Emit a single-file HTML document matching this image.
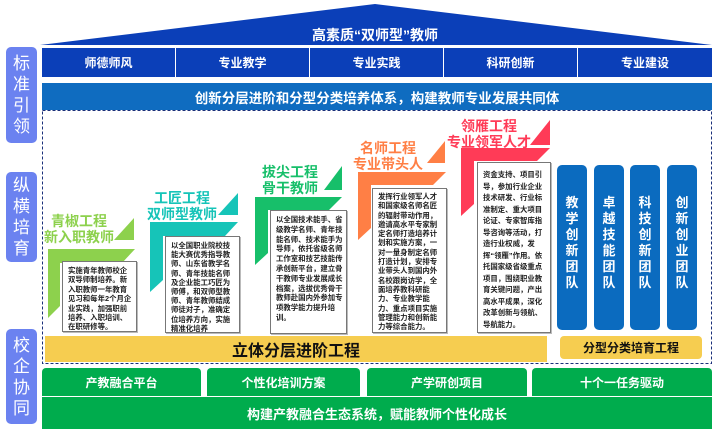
<!DOCTYPE html>
<html><head><meta charset="utf-8"><style>
*{margin:0;padding:0;box-sizing:border-box}
body{width:714px;height:429px;background:#fff;position:relative;overflow:hidden;font-family:"Liberation Sans","Noto Sans CJK SC",sans-serif}
.a{position:absolute}
.lab{position:absolute;left:6px;width:31px;background:#6b82f0;border-radius:5px;color:#fff;font-size:17px;line-height:21px;text-align:center;display:flex;align-items:center;justify-content:center;flex-direction:column}
.top5{position:absolute;top:48px;height:29px;background:#0b3fb8;color:#fff;font-size:12px;font-weight:bold;display:flex;align-items:center;justify-content:center}
.tb{position:absolute;border:1px solid #777;background:#fff;font-size:7.4px;line-height:9.8px;color:#222;padding:4px 2px 0 5px;font-weight:bold;box-shadow:1px 1px 0 #bbb;overflow:hidden}
.tt{position:absolute;font-size:14px;font-weight:bold;line-height:16px;text-align:center}
.team{position:absolute;top:165px;height:165px;width:30px;background:#0b6bbf;border-radius:5px;color:#fff;font-size:13px;font-weight:bold;line-height:16px;text-align:center;padding-top:30px}
.g{position:absolute;top:368px;height:28px;background:#00ac4d;color:#fff;font-size:12px;font-weight:bold;display:flex;align-items:center;justify-content:center;border-radius:4px 4px 0 0}
</style></head><body>
<svg class="a" style="left:0;top:0" width="714" height="429">
<polygon points="40,45 375,4 712,45" fill="#0b3fb8"/>
<polygon points="48,249 135,249 122,263 60,263 60,306 48,318" fill="#8dd14d"/>
<polygon points="114,240 134,218 134,240" fill="#8dd14d"/>
<polygon points="150,222 238,222 225,236 163,236 163,280 150,292" fill="#16c4b8"/>
<polygon points="218,215 238,193 238,215" fill="#16c4b8"/>
<polygon points="255,197 342,197 329,210 268,210 268,253 255,265" fill="#17bf6a"/>
<polygon points="324,190 342,166 342,190" fill="#17bf6a"/>
<polygon points="358,172 446,172 433,185 371,185 371,228 358,240" fill="#ff7f45"/>
<polygon points="427,163 445,141 445,163" fill="#ff7f45"/>
<polygon points="461,148 550,148 537,161 474,161 474,204 461,216" fill="#ff3b57"/>
<polygon points="530,145 550,120 550,145" fill="#ff3b57"/>
<rect x="42.5" y="110.5" width="669" height="253" fill="none" stroke="#1a2f7a" stroke-width="1" stroke-dasharray="3,2"/>
</svg>
<div class="a" style="left:0;top:25px;width:714px;text-align:center;color:#fff;font-size:14px;font-weight:bold;padding-left:36px">高素质“双师型”教师</div>
<div class="lab" style="top:47px;height:96px">标<br>准<br>引<br>领</div>
<div class="lab" style="top:172px;height:90px">纵<br>横<br>培<br>育</div>
<div class="lab" style="top:329px;height:95px">校<br>企<br>协<br>同</div>
<div class="top5" style="left:42px;width:133px">师德师风</div>
<div class="top5" style="left:176px;width:133px">专业教学</div>
<div class="top5" style="left:310px;width:133px">专业实践</div>
<div class="top5" style="left:444px;width:133px">科研创新</div>
<div class="top5" style="left:578px;width:134px">专业建设</div>
<div class="a" style="left:42px;top:83px;width:670px;height:27px;background:#0f6cc0;color:#fff;font-size:13.5px;font-weight:bold;display:flex;align-items:center;justify-content:center">创新分层进阶和分型分类培养体系，构建教师专业发展共同体</div>

<div class="tt" style="left:44px;top:213px;width:70px;color:#8dd14d">青椒工程<br>新入职教师</div>
<div class="tt" style="left:146px;top:190px;width:72px;color:#16c4b8">工匠工程<br>双师型教师</div>
<div class="tt" style="left:258px;top:164px;width:64px;color:#17bf6a">拔尖工程<br>骨干教师</div>
<div class="tt" style="left:350px;top:140px;width:76px;color:#ff7f45">名师工程<br>专业带头人</div>
<div class="tt" style="left:446px;top:118px;width:86px;color:#ff3b57">领雁工程<br>专业领军人才</div>

<div class="tb" style="left:62px;top:261px;width:75px;height:71px;line-height:9.4px">实施青年教师校企双导师制培养。新入职教师一年教育见习和每年2个月企业实践，加强职前培养、入职培训、在职研修等。</div>
<div class="tb" style="left:165px;top:236px;width:75px;height:97px;line-height:9.2px">以全国职业院校技能大赛优秀指导教师、山东省教学名师、青年技能名师及企业能工巧匠为师傅，和双师型教师、青年教师结成师徒对子，准确定位培养方向，实施精准化培养</div>
<div class="tb" style="left:270px;top:210px;width:77px;height:124px;line-height:9.8px">以全国技术能手、省级教学名师、青年技能名师、技术能手为导师，依托省级名师工作室和技艺技能传承创新平台，建立骨干教师专业发展成长档案，选拔优秀骨干教师赴国内外参加专项教学能力提升培训。</div>
<div class="tb" style="left:372px;top:188px;width:75px;height:145px;line-height:9.3px;padding-top:3px">发挥行业领军人才和国家级名师名匠的辐射带动作用，邀请高水平专家制定名师打造培养计划和实施方案，一对一量身制定名师打造计划，安排专业带头人到国内外名校跟岗访学，全面培养教科研能力、专业教学能力、重点项目实施管理能力和创新能力等综合能力。</div>
<div class="tb" style="left:477px;top:162px;width:74px;height:171px;line-height:11.5px;padding-top:6px">资金支持、项目引导，参加行业企业技术研发、行业标准制定、重大项目论证、专家智库指导咨询等活动，打造行业权威，发挥“领雁”作用。依托国家级省级重点项目，围绕职业教育关键问题，产出高水平成果，深化改革创新与领航、导航能力。</div>

<div class="team" style="left:557px">教<br>学<br>创<br>新<br>团<br>队</div>
<div class="team" style="left:594px">卓<br>越<br>技<br>能<br>团<br>队</div>
<div class="team" style="left:630px">科<br>技<br>创<br>新<br>团<br>队</div>
<div class="team" style="left:667px">创<br>新<br>创<br>业<br>团<br>队</div>

<div class="a" style="left:45px;top:336px;width:502px;height:26px;background:#f6cd50;font-size:16px;font-weight:bold;display:flex;align-items:center;justify-content:center;color:#111">立体分层进阶工程</div>
<div class="a" style="left:560px;top:336px;width:142px;height:23px;background:#f6cd50;border-radius:4px;font-size:12px;font-weight:bold;display:flex;align-items:center;justify-content:center;color:#111">分型分类培育工程</div>

<div class="g" style="left:42px;width:159px">产教融合平台</div>
<div class="g" style="left:207px;width:153px">个性化培训方案</div>
<div class="g" style="left:367px;width:160px">产学研创项目</div>
<div class="g" style="left:532px;width:180px">十个一任务驱动</div>
<div class="a" style="left:42px;top:397px;width:670px;height:32px;background:#00ac4d;color:#fff;font-size:13px;font-weight:bold;display:flex;align-items:center;justify-content:center">构建产教融合生态系统，赋能教师个性化成长</div>
</body></html>
